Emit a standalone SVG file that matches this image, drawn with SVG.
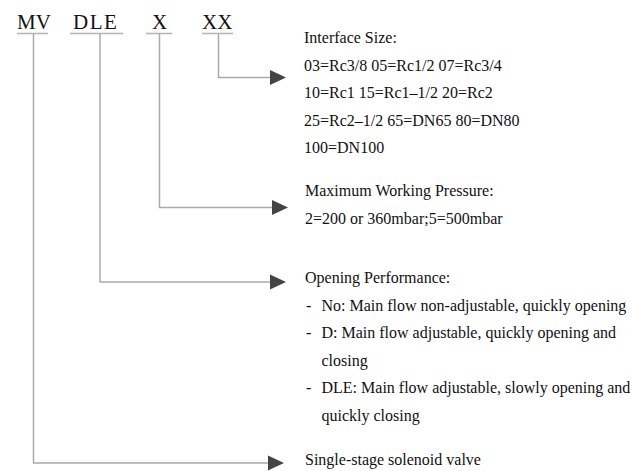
<svg xmlns="http://www.w3.org/2000/svg" width="632" height="471" viewBox="0 0 632 471">
<defs>
<style>
.code{font-family:"Liberation Serif","Times New Roman",serif;font-size:21px;fill:#111111}
.t{font-family:"Liberation Serif","Times New Roman",serif;font-size:16px;fill:#111111}
.ul{stroke:#b3b3b3;stroke-width:1.5;fill:none}
.ln{stroke:#aaaaaa;stroke-width:1.5;fill:none}
.ah{fill:#444444}
</style>
</defs>
<rect width="632" height="471" fill="#ffffff"/>
<g id="code-MV"><text class="code" x="17" y="29">MV</text><line class="ul" x1="17" y1="33.5" x2="48" y2="33.5"/></g>
<g id="code-DLE"><text class="code" x="73" y="29" letter-spacing="1.5">DLE</text><line class="ul" x1="70" y1="33.5" x2="123" y2="33.5"/></g>
<g id="code-X"><text class="code" x="152" y="29">X</text><line class="ul" x1="146" y1="33.5" x2="172" y2="33.5"/></g>
<g id="code-XX"><text class="code" x="202" y="29">XX</text><line class="ul" x1="202" y1="33.5" x2="233" y2="33.5"/></g>
<g id="connectors">
<polyline class="ln" points="218.5,34 218.5,77.5 272,77.5"/>
<polygon class="ah" points="270,70 286,77.5 270,85"/>
<polyline class="ln" points="159.5,34 159.5,207.5 274,207.5"/>
<polygon class="ah" points="272,200 288,207.5 272,215"/>
<polyline class="ln" points="100,34 100,282 272,282"/>
<polygon class="ah" points="270,274.5 286,282 270,289.5"/>
<polyline class="ln" points="33.5,34 33.5,463 270,463"/>
<polygon class="ah" points="268,455.5 284,463 268,470.5"/>
</g>
<g id="interface-size">
<text class="t" x="304" y="43">Interface Size:</text>
<text class="t" x="304" y="70.5">03=Rc3/8 05=Rc1/2 07=Rc3/4</text>
<text class="t" x="304" y="98">10=Rc1 15=Rc1–1/2 20=Rc2</text>
<text class="t" x="304" y="125.5">25=Rc2–1/2 65=DN65 80=DN80</text>
<text class="t" x="304" y="153">100=DN100</text>
</g>
<g id="pressure">
<text class="t" x="305" y="196">Maximum Working Pressure:</text>
<text class="t" x="305" y="224">2=200 or 360mbar;5=500mbar</text>
</g>
<g id="opening">
<text class="t" x="305" y="283">Opening Performance:</text>
<text class="t" x="306" y="310.5">-</text><text class="t" x="321.5" y="310.5">No: Main flow non-adjustable, quickly opening</text>
<text class="t" x="306" y="338">-</text><text class="t" x="321.5" y="338">D: Main flow adjustable, quickly opening and</text>
<text class="t" x="321.5" y="365.5">closing</text>
<text class="t" x="306" y="393">-</text><text class="t" x="321.5" y="393">DLE: Main flow adjustable, slowly opening and</text>
<text class="t" x="321.5" y="420.5">quickly closing</text>
</g>
<g id="solenoid">
<text class="t" x="305" y="465">Single-stage solenoid valve</text>
</g>
</svg>
